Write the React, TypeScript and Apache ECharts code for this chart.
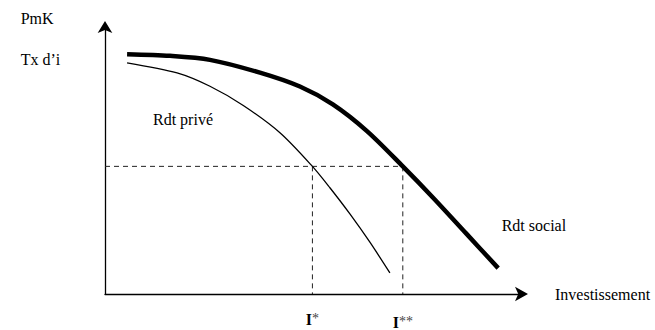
import React, { useEffect, useRef } from "react";
import * as echarts from "echarts";

// Rendement social (courbe épaisse) : [investissement, PmK]
const socialReturn: [number, number][] = [
  [5.3, 89.8], [15.6, 89.2], [25.2, 87.7], [37.2, 82.9], [46.8, 77.7],
  [54.7, 71.0], [62.9, 61.0], [71.5, 47.8], [79.0, 35.7], [86.7, 22.7],
  [94.4, 9.7],
];
// Rendement privé (courbe fine)
const privateReturn: [number, number][] = [
  [5.3, 86.6], [17.3, 82.8], [25.2, 77.8], [33.2, 70.6], [42.0, 60.4],
  [49.8, 47.8], [54.0, 39.8], [58.8, 30.0], [63.6, 19.4], [68.4, 7.9],
];
const interestRate = 47.8; // Tx d'i
const iStar = 49.8;
const iStarStar = 71.5;
const xTickValues = [iStar, iStarStar];
const xTickLabels = ["I*", "I**"];

const FONT = "Liberation Serif";

export default function App() {
  const ref = useRef<HTMLDivElement>(null);
  useEffect(() => {
    if (!ref.current) return;
    const chart = echarts.init(ref.current, null, { renderer: "svg" });
    const dashed = { color: "#222", width: 1, type: [5, 4] as number[] };
    const txt = (text: string, x: number, y: number) => ({
      type: "text",
      x,
      y,
      style: { text, fontFamily: FONT, fontSize: 16, fill: "#000", verticalAlign: "middle", align: "left" },
    });
    chart.setOption({
      animation: false,
      grid: { left: 105, top: 27, right: 133.5, bottom: 34, containLabel: false },
      xAxis: {
        type: "value",
        min: 0,
        max: 100,
        name: "Investissement",
        nameLocation: "end",
        nameGap: 33.5,
        nameTextStyle: { fontFamily: FONT, fontSize: 16, color: "#000", align: "left", verticalAlign: "middle" },
        axisLine: {
          show: true,
          symbol: ["none", "arrow"],
          symbolSize: [11, 13],
          symbolOffset: [0, 6.5],
          lineStyle: { color: "#000", width: 1.3 },
        },
        axisTick: { show: false },
        splitLine: { show: false },
        axisLabel: {
          customValues: xTickValues,
          margin: 17,
          formatter: (v: number) => {
            const i = xTickValues.findIndex((t) => Math.abs(t - v) < 1e-6);
            const s = i >= 0 ? xTickLabels[i] : "";
            return i === 1 ? "{c|I}{d|" + s.slice(1) + "}" : "{a|I}{b|" + s.slice(1) + "}";
          },
          rich: {
            a: { fontFamily: FONT, fontSize: 16, fontWeight: "bold", color: "#000" },
            b: { fontFamily: FONT, fontSize: 14, color: "#444", verticalAlign: "top" },
            c: { fontFamily: FONT, fontSize: 16, fontWeight: "bold", color: "#000", padding: [3, 0, 0, 0] },
            d: { fontFamily: FONT, fontSize: 14, color: "#444", verticalAlign: "top", padding: [3, 0, 0, 0] },
          },
        },
      },
      yAxis: {
        type: "value",
        min: 0,
        max: 100,
        axisLine: {
          show: true,
          symbol: ["none", "arrow"],
          symbolSize: [11, 12],
          symbolOffset: [0, 6],
          lineStyle: { color: "#000", width: 1.3 },
        },
        axisTick: { show: false },
        axisLabel: { show: false },
        splitLine: { show: false },
      },
      graphic: [
        txt("PmK", 20.7, 18.7),
        txt("Tx d\u2019i", 20.7, 59.2),
        txt("Rdt privé", 153, 119.5),
        txt("Rdt social", 501.7, 225),
      ],
      series: [
        { type: "line", data: [[0, interestRate], [iStarStar, interestRate]], symbol: "none", lineStyle: dashed, z: 1 },
        { type: "line", data: [[iStar, interestRate], [iStar, 0]], symbol: "none", lineStyle: dashed, z: 1 },
        { type: "line", data: [[iStarStar, interestRate], [iStarStar, 0]], symbol: "none", lineStyle: dashed, z: 1 },
        {
          type: "line",
          data: privateReturn,
          symbol: "none",
          smooth: 0.3,
          lineStyle: { color: "#000", width: 1.3 },
          z: 3,
        },
        {
          type: "line",
          data: socialReturn,
          symbol: "none",
          smooth: 0.3,
          lineStyle: { color: "#000", width: 4.5, cap: "butt" },
          z: 4,
        },
      ],
    });
    return () => chart.dispose();
  }, []);
  return <div ref={ref} style={{ width: 655, height: 330, position: "absolute", left: 0, top: 0 }} />;
}
